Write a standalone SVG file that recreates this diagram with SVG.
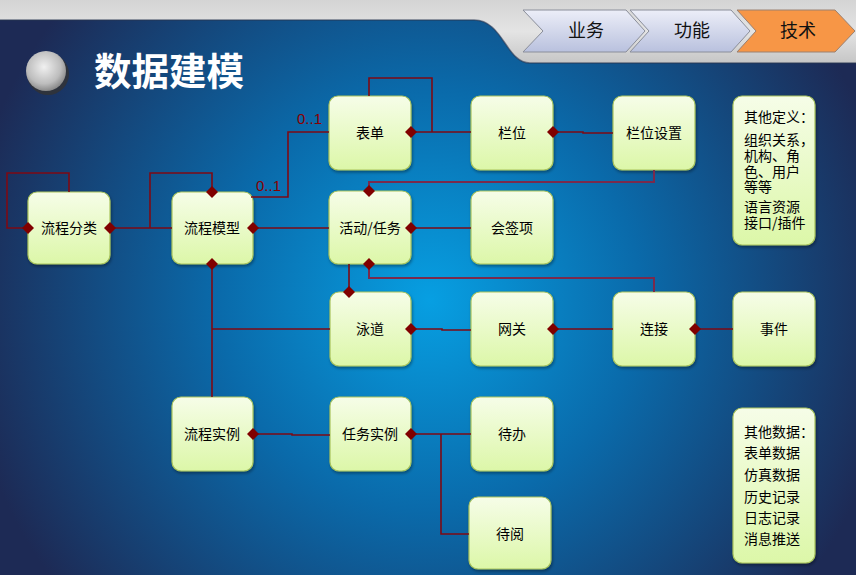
<svg xmlns="http://www.w3.org/2000/svg" width="856" height="575" viewBox="0 0 856 575">
<defs>
<radialGradient id="bg" cx="430" cy="300" r="470" gradientUnits="userSpaceOnUse">
<stop offset="0" stop-color="#079fe2"/>
<stop offset="0.45" stop-color="#0a6aaa"/>
<stop offset="1" stop-color="#1d2a55"/>
</radialGradient>
<linearGradient id="silver" x1="0" y1="0" x2="0" y2="1">
<stop offset="0" stop-color="#d4d4d4"/>
<stop offset="0.5" stop-color="#e4e4e4"/>
<stop offset="1" stop-color="#c6c6c6"/>
</linearGradient>
<linearGradient id="box" x1="0" y1="0" x2="0" y2="1">
<stop offset="0" stop-color="#f6fde8"/>
<stop offset="1" stop-color="#dcf7a8"/>
</linearGradient>
<linearGradient id="tab" x1="0" y1="0" x2="0" y2="1">
<stop offset="0" stop-color="#eceef8"/>
<stop offset="1" stop-color="#b9c1de"/>
</linearGradient>
<radialGradient id="btn" cx="0.45" cy="0.4" r="0.6">
<stop offset="0" stop-color="#f0f0f0"/>
<stop offset="0.7" stop-color="#bdbdbd"/>
<stop offset="1" stop-color="#8a8a8a"/>
</radialGradient>
<filter id="sh" x="-10%" y="-10%" width="130%" height="130%">
<feDropShadow dx="1" dy="2" stdDeviation="1.5" flood-color="#000" flood-opacity="0.35"/>
</filter>
</defs>
<style>
.n rect{fill:url(#box);stroke:#a9c45c;stroke-width:1.2;filter:url(#sh)}
.n text,.t{font-family:"Noto Sans CJK SC","Noto Sans",sans-serif;font-size:14px;fill:#000}
.n text{text-anchor:middle}
.n text.t{text-anchor:start}
#connectors path{fill:none;stroke:#7d0a14;stroke-width:1.6}
#connectors path.p{stroke:#7a2a4c;stroke-width:2}
.d{fill:#800000}
.lbl{font-family:"Liberation Sans",Arial,sans-serif;font-size:15px;fill:#8b0000}
.tabt{font-family:"Noto Sans CJK SC",sans-serif;font-size:18px;fill:#111;text-anchor:middle}
</style>
<rect width="856" height="575" fill="url(#bg)"/>
<path d="M0,0 H856 V63 H530 C506,63 503,20 474,20 H0 Z" fill="url(#silver)"/>
<path d="M0,20 H474 C503,20 506,63 530,63 H856" fill="none" stroke="#2a3550" stroke-width="1.5" opacity="0.6"/>
<g id="tabs">
<path d="M523,10 H626 L645,31 L626,52 H523 L543,31 Z" fill="url(#tab)" stroke="#8a8e9a"/>
<path d="M630,10 H731 L750,31 L731,52 H630 L649,31 Z" fill="url(#tab)" stroke="#8a8e9a"/>
<path d="M737,10 H835 L855,31 L835,52 H737 L756,31 Z" fill="#f79646" stroke="#9a8070"/>
<text class="tabt" x="586" y="37">业务</text>
<text class="tabt" x="692" y="37">功能</text>
<text class="tabt" x="798" y="37">技术</text>
</g>
<circle cx="48" cy="74" r="21" fill="#333" opacity="0.8"/>
<circle cx="46" cy="71" r="20" fill="url(#btn)"/>
<text x="94" y="85" font-family="Noto Sans CJK SC,sans-serif" font-size="37.5" font-weight="bold" fill="#fff">数据建模</text>
<g id="n-liuchengfenlei" class="n"><rect x="28" y="192" width="82" height="72" rx="9"/><text x="69" y="233">流程分类</text></g>
<g id="n-liuchengmoxing" class="n"><rect x="172" y="192" width="81" height="72" rx="9"/><text x="212" y="233">流程模型</text></g>
<g id="n-biaodan" class="n"><rect x="329" y="96" width="82" height="74" rx="9"/><text x="370" y="138">表单</text></g>
<g id="n-lanwei" class="n"><rect x="471" y="96" width="82" height="74" rx="9"/><text x="512" y="138">栏位</text></g>
<g id="n-lanweishezhi" class="n"><rect x="613" y="96" width="82" height="74" rx="9"/><text x="654" y="138">栏位设置</text></g>
<g id="n-huodong" class="n"><rect x="329" y="191" width="82" height="73" rx="9"/><text x="370" y="233">活动/任务</text></g>
<g id="n-huiqian" class="n"><rect x="471" y="191" width="82" height="73" rx="9"/><text x="512" y="233">会签项</text></g>
<g id="n-yongdao" class="n"><rect x="330" y="292" width="81" height="74" rx="9"/><text x="370" y="334">泳道</text></g>
<g id="n-wangguan" class="n"><rect x="471" y="292" width="82" height="74" rx="9"/><text x="512" y="334">网关</text></g>
<g id="n-lianjie" class="n"><rect x="613" y="292" width="82" height="74" rx="9"/><text x="654" y="334">连接</text></g>
<g id="n-shijian" class="n"><rect x="733" y="292" width="82" height="74" rx="9"/><text x="774" y="334">事件</text></g>
<g id="n-liuchengshili" class="n"><rect x="172" y="397" width="81" height="74" rx="9"/><text x="212" y="439">流程实例</text></g>
<g id="n-renwushili" class="n"><rect x="330" y="397" width="81" height="74" rx="9"/><text x="370" y="439">任务实例</text></g>
<g id="n-daiban" class="n"><rect x="471" y="397" width="82" height="74" rx="9"/><text x="512" y="439">待办</text></g>
<g id="n-daiyue" class="n"><rect x="469" y="497" width="82" height="72" rx="9"/><text x="510" y="539">待阅</text></g>
<g id="n-qitadingyi" class="n"><rect x="733" y="96" width="82" height="149" rx="9"/>
<text class="t" x="744" y="122">其他定义：</text>
<text class="t" x="744" y="145">组织关系，</text>
<text class="t" x="744" y="161">机构、角</text>
<text class="t" x="744" y="177">色、用户</text>
<text class="t" x="744" y="192">等等</text>
<text class="t" x="744" y="212">语言资源</text>
<text class="t" x="744" y="228">接口/插件</text>
</g>
<g id="n-qitashuju" class="n"><rect x="733" y="408" width="82" height="155" rx="9"/>
<text class="t" x="744" y="437">其他数据：</text>
<text class="t" x="744" y="458">表单数据</text>
<text class="t" x="744" y="480">仿真数据</text>
<text class="t" x="744" y="502">历史记录</text>
<text class="t" x="744" y="523">日志记录</text>
<text class="t" x="744" y="544">消息推送</text>
</g>
<g id="connectors">
<path d="M28,228 H7 V173 H69 V192"/>
<path d="M110,228 H172"/>
<path d="M150,228 V173 H212 V192"/>
<path d="M253,228 H329"/>
<path d="M251,197 H288 V132 H329"/>
<path d="M369,96 V78 H432 V132"/>
<path d="M411,132 H471"/>
<path d="M553,132 H583 V133 H613"/>
<path class="p" d="M654,170 V182 H369 V191"/>
<path d="M411,228 H471"/>
<path class="p" d="M369,264 V278 H654 V292"/>
<path d="M349,264 V292"/>
<path d="M212,264 V397 M212,329 H330"/>
<path d="M411,329 H442 V330 H471"/>
<path d="M553,329 H613"/>
<path d="M695,329 H733"/>
<path d="M253,434 H292 V435 H330"/>
<path d="M411,434 H471 M441,434 V534 H469"/>
<polygon class="d" points="28,222 34,228 28,234 22,228"/>
<polygon class="d" points="110,222 116,228 110,234 104,228"/>
<polygon class="d" points="212,186 218,192 212,198 206,192"/>
<polygon class="d" points="253,222 259,228 253,234 247,228"/>
<polygon class="d" points="212,258 218,264 212,270 206,264"/>
<polygon class="d" points="411,126 417,132 411,138 405,132"/>
<polygon class="d" points="553,126 559,132 553,138 547,132"/>
<polygon class="d" points="369,185 375,191 369,197 363,191"/>
<polygon class="d" points="411,222 417,228 411,234 405,228"/>
<polygon class="d" points="369,258 375,264 369,270 363,264"/>
<polygon class="d" points="349,286 355,292 349,298 343,292"/>
<polygon class="d" points="411,323 417,329 411,335 405,329"/>
<polygon class="d" points="553,323 559,329 553,335 547,329"/>
<polygon class="d" points="695,323 701,329 695,335 689,329"/>
<polygon class="d" points="253,428 259,434 253,440 247,434"/>
<polygon class="d" points="411,428 417,434 411,440 405,434"/>
<text class="lbl" x="297" y="124">0..1</text>
<text class="lbl" x="256" y="191">0..1</text>
</g>
</svg>
